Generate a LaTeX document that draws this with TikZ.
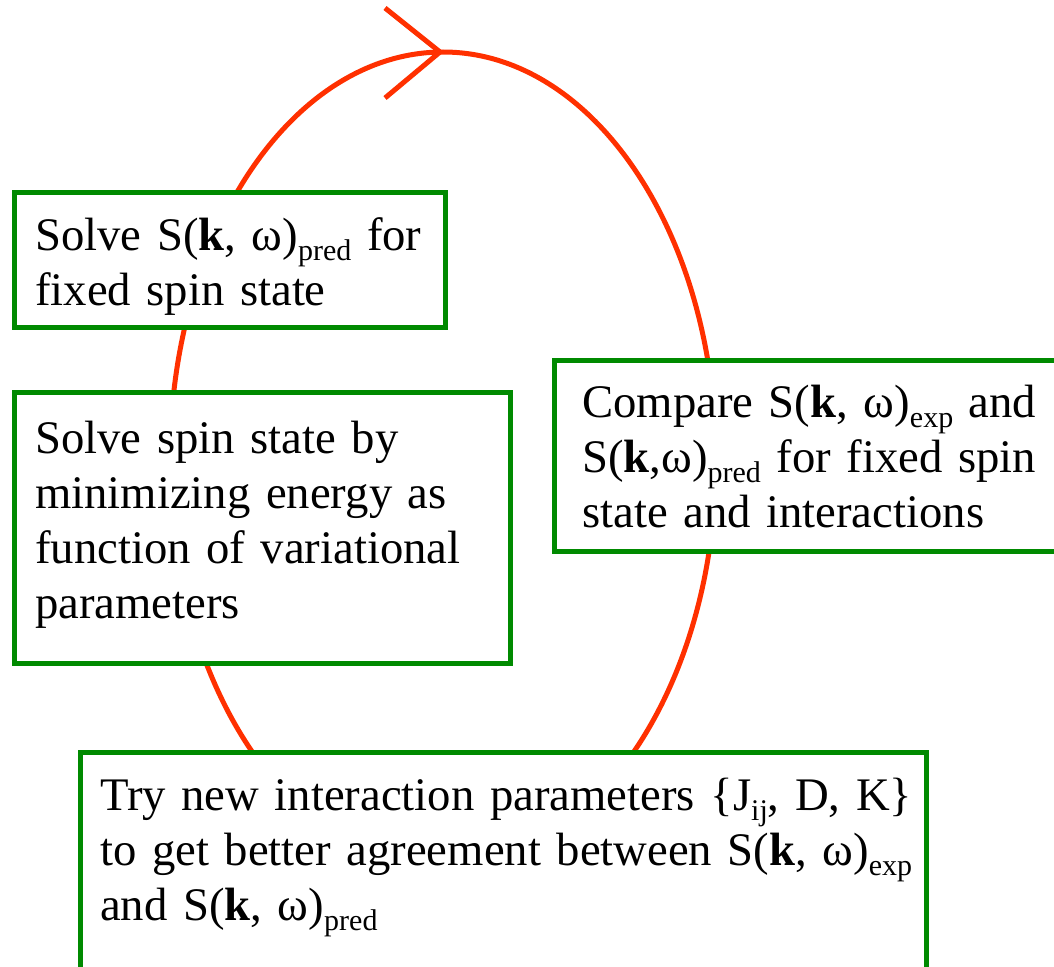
\documentclass[tikz,border=0pt]{standalone}
\usepackage{fontspec}
\setmainfont{Liberation Serif}
\usetikzlibrary{positioning}
\newcommand\lowsub[1]{\raisebox{-10pt}{\fontsize{30}{30}\selectfont #1}}
\definecolor{cyclered}{RGB}{255,48,0}
\definecolor{boxgreen}{RGB}{0,138,0}

\begin{document}
\begin{tikzpicture}[x=1pt,y=-1pt]
        \tikzset{stepbox/.style = {shape=rectangle,draw=boxgreen,fill=white,line width=5pt,outer sep=0pt,inner sep=0pt,anchor=north west}};
        \tikzset{txt/.style = {anchor=base west,align=left,inner sep=0pt,text width=900pt,font=\fontsize{46.7}{55}\selectfont}};
        \tikzset{cycleline/.style = {draw=cyclered,line width=5pt}};
        \useasboundingbox (0,0) rectangle (1054,966);
        \clip (0,0) rectangle (1054,966);
        \draw[cycleline] (443,460) ellipse [x radius=273, y radius=408];
        \coordinate (tip) at (440,52);
        \coordinate (barbup) at (385,8);
        \coordinate (barbdown) at (385,98);
        \draw[cycleline,line join=miter] (barbup) -- (tip) -- (barbdown);
        \node[stepbox,minimum width=431,minimum height=135] (predbox) at (14.5,192.5) {};
        \node[stepbox,minimum width=496,minimum height=271] (statebox) at (14,392) {};
        \node[stepbox,minimum width=516,minimum height=191] (comparebox) at (554,360) {};
        \node[stepbox,minimum width=846,minimum height=238] (trybox) at (80,752) {};
        \node[txt] (predtxt) at (35,250) {Solve S(\textbf{k}, ω)\lowsub{pred} for\\fixed spin state};
        \node[txt] (statetxt) at (35,453) {Solve spin state by\\minimizing energy as\\function of variational\\parameters};
        \node[txt] (comparetxt) at (582,417) {Compare S(\textbf{k}, ω)\lowsub{exp} and\\S(\textbf{k},ω)\lowsub{pred} for fixed spin\\state and interactions};
        \node[txt] (trytxt) at (100,810) {Try new interaction parameters \{J\lowsub{ij}, D, K\}\\to get better agreement between S(\textbf{k}, ω)\lowsub{exp}\\and S(\textbf{k}, ω)\lowsub{pred}};
    \end{tikzpicture}
\end{document}
